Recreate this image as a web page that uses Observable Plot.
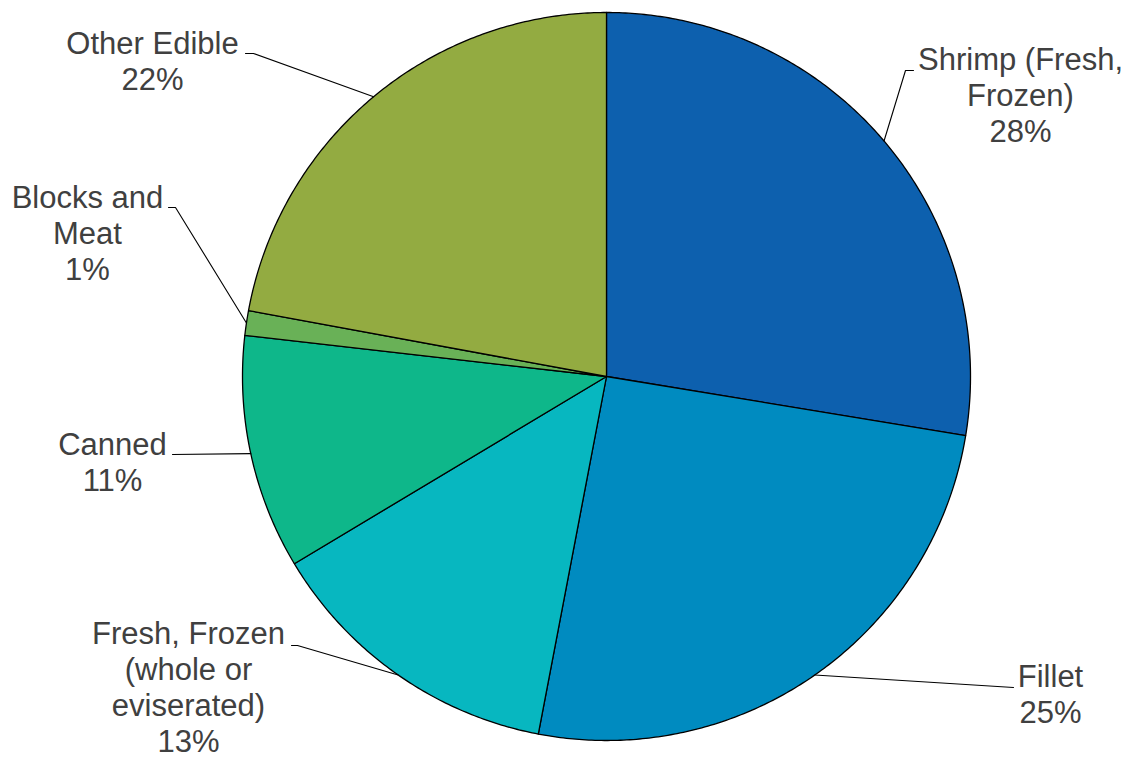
<!DOCTYPE html>
<html><head><meta charset="utf-8">
<script src="https://cdn.jsdelivr.net/npm/d3@7"></script>
<script src="https://cdn.jsdelivr.net/npm/@observablehq/plot@0.6"></script>
<style>html,body{margin:0;padding:0;background:#fff}</style>
</head><body><div id="chart"></div>
<script>
// ---- data ----
const categories = ["Shrimp (Fresh, Frozen)", "Fillet", "Fresh, Frozen (whole or eviserated)", "Canned", "Blocks and Meat", "Other Edible"];
const labelTexts = ["Shrimp (Fresh,\nFrozen)", "Fillet", "Fresh, Frozen\n(whole or\neviserated)", "Canned", "Blocks and\nMeat", "Other Edible"];
const shares = [27.6, 25.4, 13.4, 10.4, 1.1, 22.1];
const percentLabels = ["28%", "25%", "13%", "11%", "1%", "22%"];
const colors = ["#0D60AE", "#008BC0", "#07B7C0", "#0EB78A", "#69B157", "#93AB41"];

// ---- layout (pixels) ----
const W = 1130, H = 760, CX = 606, CY = 376, R = 364;
const labelLayout = [
  {tx: 1020, ty: 94,  leader: [[905, 70], [913, 70]]},
  {tx: 1050, ty: 693, leader: [[1013, 687]]},
  {tx: 188,  ty: 686, leader: [[297, 645], [291, 645]]},
  {tx: 112,  ty: 461, leader: [[172, 454]]},
  {tx: 87,   ty: 232, leader: [[175, 207], [168, 207]]},
  {tx: 152,  ty: 60,  leader: [[253, 53], [245, 53]]}
];
const ux = px => (px - CX) / R;
const uy = py => (CY - py) / R;

// ---- geometry from data ----
const total = d3.sum(shares);
const slicePts = [];
const leaderPts = [];
const labels = [];
let cum = 0;
categories.forEach((cat, i) => {
  const a0 = cum / total * 2 * Math.PI;
  cum += shares[i];
  const a1 = cum / total * 2 * Math.PI;
  slicePts.push({cat, x: 0, y: 0});
  const n = Math.max(2, Math.ceil((a1 - a0) / (Math.PI / 360)));
  for (let k = 0; k <= n; k++) {
    const a = a0 + (a1 - a0) * k / n;
    slicePts.push({cat, x: Math.sin(a), y: Math.cos(a)});
  }
  slicePts.push({cat, x: 0, y: 0});
  const am = (a0 + a1) / 2;
  leaderPts.push({cat, x: Math.sin(am), y: Math.cos(am)});
  for (const [px, py] of labelLayout[i].leader) leaderPts.push({cat, x: ux(px), y: uy(py)});
  labels.push({cat, x: ux(labelLayout[i].tx), y: uy(labelLayout[i].ty), text: labelTexts[i] + "\n" + percentLabels[i]});
});

const chart = Plot.plot({
  width: W, height: H, margin: 0,
  style: {background: "#fff", fontFamily: "'Liberation Sans', Arial, sans-serif"},
  x: {domain: [ux(0), ux(W)], axis: null},
  y: {domain: [uy(H), uy(0)], axis: null},
  color: {domain: categories, range: colors},
  marks: [
    Plot.line(slicePts, {x: "x", y: "y", z: "cat", fill: "cat", stroke: "#000", strokeWidth: 1.3, curve: "linear"}),
    Plot.line(leaderPts, {x: "x", y: "y", z: "cat", stroke: "#000", strokeWidth: 1.1, curve: "linear"}),
    Plot.text(labels, {x: "x", y: "y", text: "text", fontSize: 31, lineHeight: 36 / 31, lineAnchor: "middle", textAnchor: "middle", fill: "#404040", fontFamily: "'Liberation Sans', Arial, sans-serif"})
  ]
});
document.getElementById("chart").appendChild(chart);
</script>
</body></html>
